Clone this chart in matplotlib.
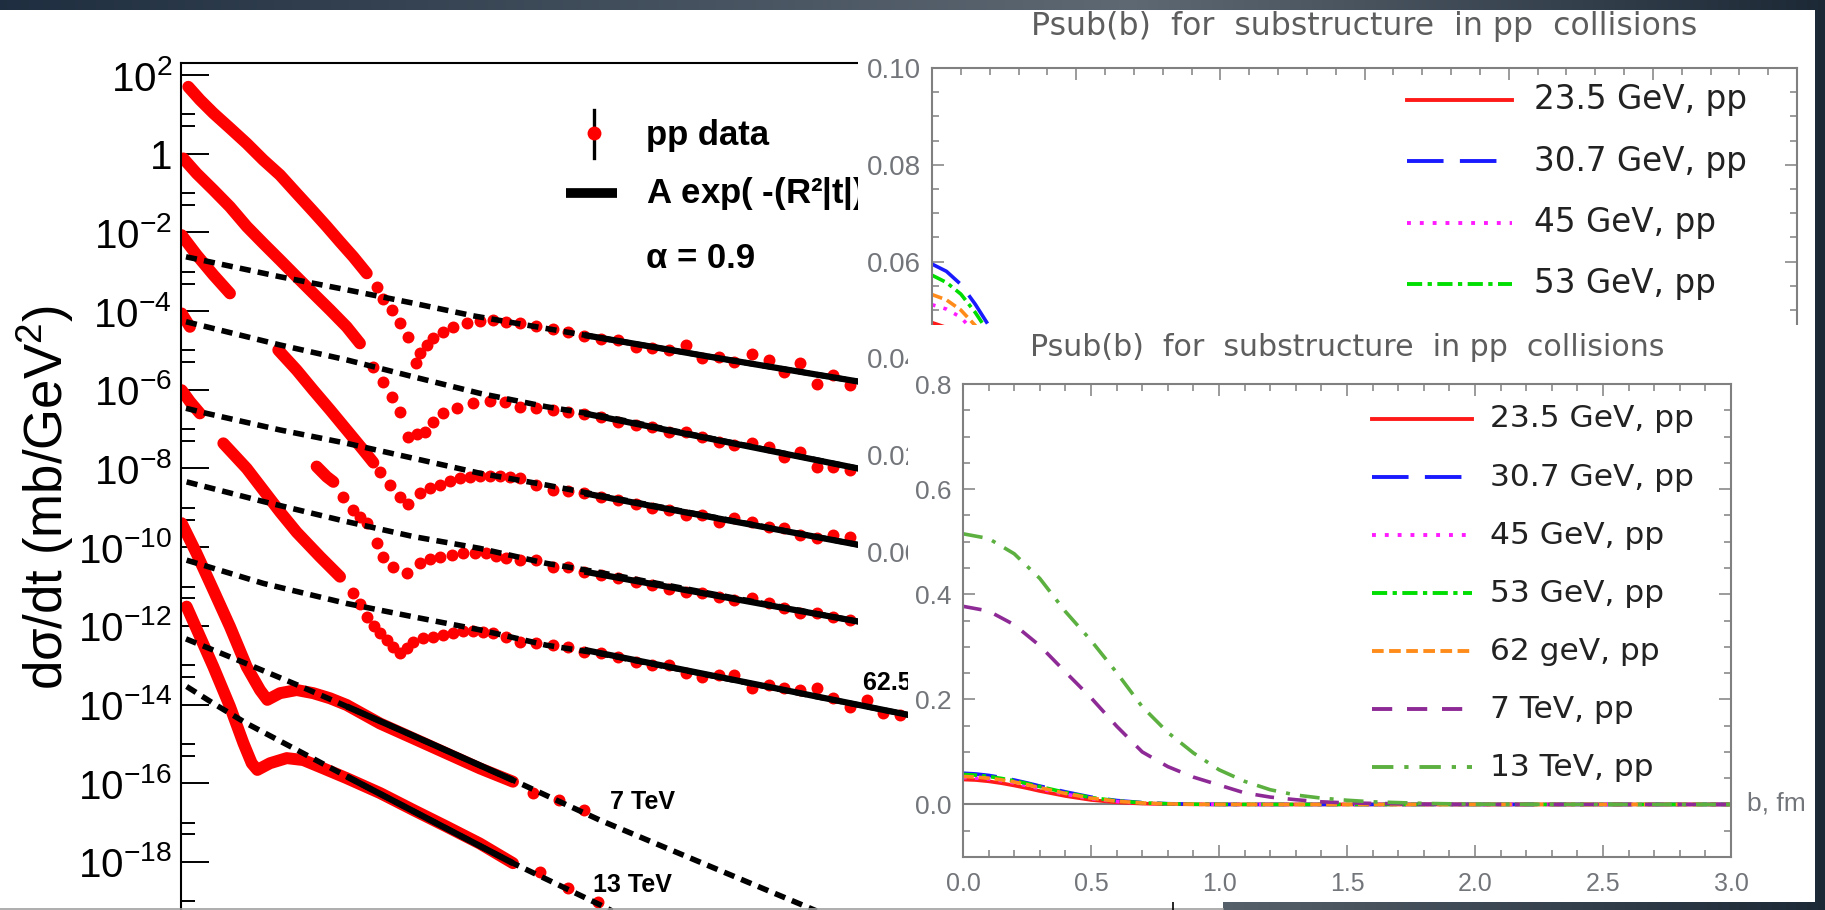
import numpy as np
import matplotlib
matplotlib.use("Agg")
import matplotlib.pyplot as plt
from matplotlib.lines import Line2D
from matplotlib.patches import Rectangle
from matplotlib.transforms import Bbox, TransformedBbox
from matplotlib.ticker import FixedLocator, FixedFormatter, NullFormatter, MultipleLocator, FormatStrFormatter

nan = np.nan
W, H = 1825, 910

plt.rcParams["font.family"] = ["Liberation Sans", "DejaVu Sans"]
plt.rcParams["mathtext.fontset"] = "custom"
plt.rcParams["mathtext.rm"] = "Liberation Sans"
plt.rcParams["mathtext.it"] = "Liberation Sans:italic"
plt.rcParams["mathtext.bf"] = "Liberation Sans:bold"

# ---------------- left: pp elastic dsigma/dt, log10 values vs |t| (GeV^2)
isr_energy = ["23.5 GeV", "30.7 GeV", "44.7 GeV", "52.8 GeV", "62.5 GeV"]

# low-|t| stretches where the points overlap into a band (nan = gap)
band_t = [
    [0.044, 0.114, 0.195, 0.295, 0.396, 0.496, 0.596, 0.697, 0.797, 0.878, 0.958, 1.038, 1.119],
    [0.014, 0.094, 0.195, 0.295, 0.396, 0.496, 0.596, 0.697, 0.797, 0.898, 0.998, 1.078],
    [0.004, 0.094, 0.195, 0.295, nan, 0.586, 0.697, 0.797, 0.898, 0.998, 1.098, 1.159],
    [0.004, 0.054, nan, 0.817, 0.878, 0.918],
    [0.004, 0.054, 0.114, nan, 0.255, 0.396, 0.496, 0.596, 0.697, 0.837, 0.958],
]
band_lg = [
    [1.70, 1.37, 1.03, 0.65, 0.26, -0.16, -0.54, -1.01, -1.47, -1.85, -2.24, -2.62, -3.04],
    [-0.12, -0.50, -0.92, -1.35, -1.85, -2.28, -2.70, -3.13, -3.55, -3.97, -4.40, -4.82],
    [-2.07, -2.57, -3.08, -3.55, nan, -4.99, -5.50, -6.01, -6.51, -7.02, -7.53, -7.85],
    [-4.06, -4.40, nan, -7.95, -8.21, -8.34],
    [-6.01, -6.30, -6.60, nan, -7.36, -8.00, -8.55, -9.10, -9.62, -10.24, -10.75],
]

# separate points: dip region and large-|t| tail
dots_t = [
    [1.179, 1.219, 1.269, 1.319, 1.369, 1.416, 1.44, 1.48, 1.52, 1.58, 1.64, 1.72, 1.80, 1.88, 1.96, 2.04,
     2.14, 2.24, 2.33, 2.43, 2.53, 2.63, 2.74, 2.84, 2.94, 3.04, 3.14, 3.24, 3.33, 3.44, 3.54, 3.63, 3.73, 3.83, 3.93, 4.03],
    [1.159, 1.219, 1.269, 1.319, 1.369, 1.42, 1.47, 1.52, 1.58, 1.66, 1.76, 1.86, 1.95, 2.04,
     2.14, 2.24, 2.33, 2.43, 2.53, 2.63, 2.74, 2.84, 2.94, 3.04, 3.14, 3.24, 3.33, 3.44, 3.54, 3.63, 3.73, 3.83, 3.93, 4.03],
    [1.199, 1.259, 1.319, 1.369, 1.44, 1.50, 1.56, 1.62, 1.68, 1.74, 1.80, 1.86, 1.92, 1.98, 2.04,
     2.14, 2.24, 2.33, 2.43, 2.53, 2.63, 2.74, 2.84, 2.94, 3.04, 3.14, 3.24, 3.33, 3.44, 3.54, 3.63, 3.73, 3.83, 3.93, 4.03],
    [0.978, 1.038, 1.08, 1.119, 1.179, 1.219, 1.279, 1.36, 1.44, 1.50, 1.56, 1.63, 1.70, 1.77, 1.84, 1.90, 1.96, 2.04,
     2.14, 2.24, 2.33, 2.43, 2.53, 2.63, 2.74, 2.84, 2.94, 3.04, 3.14, 3.24, 3.33, 3.44, 3.54, 3.63, 3.73, 3.83, 3.93, 4.03],
    [1.038, 1.08, 1.119, 1.16, 1.199, 1.24, 1.279, 1.319, 1.36, 1.40, 1.46, 1.52, 1.58, 1.64, 1.70, 1.76, 1.82, 1.88, 1.96, 2.04,
     2.14, 2.24, 2.33, 2.43, 2.53, 2.63, 2.74, 2.84, 2.94, 3.04, 3.14, 3.24, 3.33, 3.44, 3.54, 3.63, 3.73, 3.83, 3.93, 4.03,
     4.13, 4.23, 4.33, 4.43, 4.53],
]
dots_lg = [
    [-3.38, -3.68, -3.97, -4.31, -4.65, -5.31, -5.07, -4.86, -4.69, -4.52, -4.40, -4.31, -4.25, -4.23, -4.27, -4.31,
     -4.37, -4.45, -4.52, -4.63, -4.72, -4.74, -4.90, -4.95, -4.99, -4.86, -5.20, -5.16, -5.29, -5.09, -5.24, -5.54, -5.33, -5.84, -5.62, -5.88],
    [-5.41, -5.79, -6.18, -6.56, -7.19, -7.13, -7.07, -6.81, -6.60, -6.47, -6.34, -6.28, -6.32, -6.43,
     -6.47, -6.51, -6.56, -6.62, -6.68, -6.81, -6.89, -6.94, -7.06, -7.06, -7.19, -7.32, -7.40, -7.36, -7.45, -7.70, -7.57, -7.95, -7.95, -8.04],
    [-8.08, -8.42, -8.72, -8.89, -8.63, -8.50, -8.42, -8.33, -8.25, -8.21, -8.19, -8.18, -8.19, -8.22, -8.25,
     -8.42, -8.55, -8.57, -8.63, -8.72, -8.80, -8.89, -9.01, -9.06, -9.18, -9.18, -9.35, -9.27, -9.35, -9.48, -9.52, -9.69, -9.77, -9.69, -9.73],
    [-8.72, -9.06, -9.22, -9.39, -9.90, -10.24, -10.50, -10.66, -10.41, -10.30, -10.24, -10.19, -10.16, -10.14, -10.16, -10.22, -10.28, -10.33,
     -10.33, -10.50, -10.50, -10.62, -10.71, -10.79, -10.88, -10.96, -11.05, -11.13, -11.17, -11.26, -11.34, -11.30, -11.43, -11.55, -11.68, -11.68, -11.77, -11.85],
    [-11.17, -11.45, -11.77, -12.00, -12.19, -12.37, -12.53, -12.70, -12.55, -12.40, -12.32, -12.27, -12.23, -12.19, -12.13, -12.12, -12.15, -12.19, -12.27, -12.40,
     -12.44, -12.49, -12.53, -12.66, -12.70, -12.78, -12.91, -12.99, -12.99, -13.20, -13.29, -13.25, -13.25, -13.59, -13.50, -13.59, -13.63, -13.59, -13.84, -14.05,
     -13.88, -14.22, -14.26, -14.35, -14.45],
]

# A exp(-(R^2|t|)^alpha) fits: dashed over the whole range, solid over the fitted tail
fit_t = [
    [0.03, 0.6, 1.0, 1.4, 1.76, 2.43, 3.2, 4.08, 4.6],
    [0.03, 0.155, 0.596, 0.998, 1.40, 1.80, 2.20, 2.52, 4.08, 4.6],
    [0.03, 0.155, 0.596, 0.998, 1.40, 1.80, 2.20, 2.52, 4.08, 4.6],
    [0.034, 0.496, 0.998, 1.40, 1.80, 2.20, 2.52, 4.08, 4.6],
    [0.034, 0.496, 0.998, 1.40, 1.80, 2.20, 2.52, 4.38, 4.8],
]
fit_lg = [
    [-2.62, -3.13, -3.46, -3.80, -4.12, -4.61, -5.17, -5.79, -6.15],
    [-4.27, -4.40, -4.86, -5.24, -5.67, -6.09, -6.43, -6.65, -8.00, -8.45],
    [-6.47, -6.60, -7.02, -7.36, -7.74, -8.12, -8.42, -8.68, -9.94, -10.35],
    [-8.34, -8.84, -9.35, -9.73, -10.03, -10.41, -10.64, -11.89, -12.30],
    [-10.33, -10.92, -11.43, -11.77, -12.10, -12.49, -12.70, -14.26, -14.60],
]
tail_t = [[2.43, 3.2, 4.08, 4.6], [2.43, 4.08, 4.6], [2.43, 4.08, 4.6], [2.43, 4.08, 4.6], [2.43, 4.38, 4.8]]
tail_lg = [[-4.61, -5.17, -5.79, -6.15], [-6.60, -8.00, -8.45], [-8.63, -9.94, -10.35],
           [-10.62, -11.89, -12.30], [-12.61, -14.26, -14.60]]

# LHC 7 and 13 TeV
tev7_band_t = [0.004, 0.094, 0.195, 0.295, 0.396, 0.476, 0.52, 0.596, 0.697, 0.797, 0.898, 0.998, 1.199, 1.4, 1.6, 1.8, 2.0]
tev7_band_lg = [-9.39, -10.16, -11.09, -12.02, -13.04, -13.63, -13.88, -13.71, -13.63, -13.71, -13.84, -14.01, -14.48, -14.86, -15.24, -15.62, -15.96]
tev7_dots_t = [2.12, 2.28, 2.43]
tev7_dots_lg = [-16.25, -16.42, -16.68]
tev7_fit_t = [0.03, 0.4, 0.7, 1.0, 1.5, 2.0, 2.52, 3.0, 3.77, 4.0]
tev7_fit_lg = [-12.33, -12.97, -13.50, -14.05, -14.98, -15.92, -16.93, -17.78, -19.14, -19.55]
tev7_tail_t = [1.0, 1.5, 2.0]
tev7_tail_lg = [-14.05, -14.98, -15.92]

tev13_band_t = [0.034, 0.114, 0.195, 0.295, 0.376, 0.426, 0.46, 0.536, 0.637, 0.737, 0.857, 0.998, 1.2, 1.4, 1.6, 1.8, 2.0]
tev13_band_lg = [-11.51, -12.27, -13.04, -14.05, -14.98, -15.49, -15.66, -15.49, -15.36, -15.41, -15.62, -15.87, -16.25, -16.68, -17.10, -17.53, -18.03]
tev13_dots_t = [2.16, 2.33, 2.51]
tev13_dots_lg = [-18.25, -18.65, -19.02]
tev13_fit_t = [0.034, 0.195, 0.396, 0.697, 1.0, 1.5, 2.0, 2.55, 2.8]
tev13_fit_lg = [-13.54, -13.97, -14.48, -15.15, -15.83, -16.93, -18.03, -19.14, -19.70]
tev13_tail_t = [1.0, 1.5, 2.0]
tev13_tail_lg = [-15.83, -16.93, -18.03]

ytick_exp = [2, 0, -2, -4, -6, -8, -10, -12, -14, -16, -18]

# ---------------- right: Psub(b) profiles
b_isr = [0, 0.05, 0.1, 0.15, 0.2, 0.25, 0.3, 0.4, 0.5, 0.6, 0.7, 0.8, 0.9, 1.0, 1.2, 1.5, 2.0, 3.0]
p_235 = [0.0474, 0.0464, 0.0440, 0.0404, 0.0360, 0.0310, 0.0255, 0.0160, 0.0085, 0.0040, 0.0016, 0.0006, 0.0002, 0, 0, 0, 0, 0]
p_307 = [0.0595, 0.0580, 0.0553, 0.0512, 0.0465, 0.0410, 0.0350, 0.0240, 0.0140, 0.0075, 0.0035, 0.0014, 0.0005, 0.0001, 0, 0, 0, 0]
p_45 = [0.0511, 0.0502, 0.0485, 0.0452, 0.0410, 0.0358, 0.0300, 0.0195, 0.0110, 0.0055, 0.0024, 0.0009, 0.0003, 0.0001, 0, 0, 0, 0]
p_53 = [0.0572, 0.0557, 0.0533, 0.0495, 0.0450, 0.0398, 0.0340, 0.0228, 0.0132, 0.0068, 0.0031, 0.0012, 0.0004, 0.0001, 0, 0, 0, 0]
p_62 = [0.0532, 0.0521, 0.0500, 0.0468, 0.0428, 0.0377, 0.0320, 0.0210, 0.0120, 0.0062, 0.0028, 0.0011, 0.0004, 0.0001, 0, 0, 0, 0]
b_lhc = [0, 0.1, 0.2, 0.3, 0.4, 0.5, 0.6, 0.7, 0.8, 0.9, 1.0, 1.1, 1.2, 1.3, 1.4, 1.5, 1.6, 1.8, 2.0, 2.5, 3.0]
p_7tev = [0.377, 0.368, 0.342, 0.302, 0.252, 0.203, 0.149, 0.100, 0.072, 0.052, 0.037, 0.022, 0.014, 0.009, 0.005, 0.003, 0.002, 0.0005, 0, 0, 0]
p_13tev = [0.515, 0.506, 0.477, 0.430, 0.367, 0.312, 0.251, 0.186, 0.137, 0.098, 0.066, 0.044, 0.028, 0.018, 0.012, 0.008, 0.005, 0.002, 0.0005, 0, 0]

psub_labels = ["23.5 GeV, pp", "30.7 GeV, pp", "45 GeV, pp", "53 GeV, pp", "62 geV, pp", "7 TeV, pp", "13 TeV, pp"]
psub_b = [b_isr, b_isr, b_isr, b_isr, b_isr, b_lhc, b_lhc]
psub_vals = [p_235, p_307, p_45, p_53, p_62, p_7tev, p_13tev]
psub_colors = ["#ff1a1a", "#1a1aff", "#ff1aff", "#00dd00", "#ff8c1a", "#8e2a96", "#5cb040"]
psub_dashes = [None, (9.4, 4.2), (1.0, 2.3), (3.9, 1.4, 1.1, 1.4), (3.0, 1.4), (5.2, 3.8), (5.5, 2.8, 1.1, 2.8)]

RED = "#ff0000"
FRAME = "#808080"
LABEL = "#72757a"
TITLE = "#5e5e5e"
title_text = "Psub(b)  for  substructure  in pp  collisions"


def fx(x):
    return x / W


def fy(y):
    return 1 - y / H


def box(x0, y0, x1, y1):
    return [x0 / W, 1 - y1 / H, (x1 - x0) / W, (y1 - y0) / H]


def white(x0, y0, x1, y1, z):
    fig.add_artist(Rectangle((x0 / W, 1 - y1 / H), (x1 - x0) / W, (y1 - y0) / H,
                             transform=fig.transFigure, facecolor="white", edgecolor="none", zorder=z))


def clip_left_of(artist, xpix):
    # text running under the next panel is cut at that panel's edge
    artist.set_clip_box(TransformedBbox(Bbox.from_extents(0, 0, fx(xpix), 1), fig.transFigure))
    artist.set_clip_on(True)


fig = plt.figure(figsize=(W / 100, H / 100), dpi=100)

# slide background
gx = np.linspace(0, 1, 512)
stops = [0.0, 0.62, 1.0]
cols = [(0.12, 0.18, 0.25), (0.37, 0.41, 0.45), (0.11, 0.16, 0.21)]
grad = np.stack([np.interp(gx, stops, [c[k] for c in cols]) for k in range(3)], axis=-1)
bg = fig.add_axes([0, 0, 1, 1], zorder=0)
bg.imshow(np.repeat(grad[None], 2, axis=0), aspect="auto", extent=[0, 1, 0, 1])
bg.axis("off")

white(0, 10, 1223, 910, 1)
white(858, 10, 1815, 650, 2)
white(908, 325, 1815, 902, 3)

# ---------------- left panel
ax1 = fig.add_axes(box(181, 62.7, 1222, 910), zorder=1.5)
ax1.patch.set_visible(False)
ax1.set_yscale("log")
ax1.set_xlim(0, 6.271)
ax1.set_ylim(10 ** -19.22, 10 ** 2.3126)

for i in range(5):
    ax1.plot(band_t[i], 10 ** np.array(band_lg[i]), color=RED, lw=8.6, solid_capstyle="round", zorder=2)
    ax1.plot(dots_t[i], 10 ** np.array(dots_lg[i]), "o", color=RED, ms=8.6, mew=0, zorder=2)
for bt, bl, dt, dl in [(tev7_band_t, tev7_band_lg, tev7_dots_t, tev7_dots_lg),
                       (tev13_band_t, tev13_band_lg, tev13_dots_t, tev13_dots_lg)]:
    ax1.plot(bt, 10 ** np.array(bl), color=RED, lw=8.6, solid_capstyle="round", zorder=2)
    ax1.plot(dt, 10 ** np.array(dl), "o", color=RED, ms=8.6, mew=0, zorder=2)

for ft, fl in list(zip(fit_t, fit_lg)) + [(tev7_fit_t, tev7_fit_lg), (tev13_fit_t, tev13_fit_lg)]:
    ax1.plot(ft, 10 ** np.array(fl), color="black", lw=4.0, dashes=(2.0, 1.3), zorder=3)
for tt, tl in list(zip(tail_t, tail_lg)) + [(tev7_tail_t, tev7_tail_lg), (tev13_tail_t, tev13_tail_lg)]:
    ax1.plot(tt, 10 ** np.array(tl), color="black", lw=4.5, solid_capstyle="butt", zorder=4)

ax1.text(2.584, 10 ** -16.475, "7 TeV", fontsize=18, fontweight="bold", va="center", ha="left")
ax1.text(2.482, 10 ** -18.585, "13 TeV", fontsize=18, fontweight="bold", va="center", ha="left")
t62 = ax1.text(4.108, 10 ** -13.45, isr_energy[4], fontsize=18, fontweight="bold", va="center", ha="left")
clip_left_of(t62, 908)

ax1.set_xticks([])
ax1.yaxis.set_major_locator(FixedLocator([10.0 ** k for k in ytick_exp]))
ax1.yaxis.set_major_formatter(FixedFormatter(
    ["1" if k == 0 else r"$\mathregular{10^{%d}}$" % k for k in ytick_exp]))
ax1.yaxis.set_minor_locator(FixedLocator([10.0 ** k for k in range(1, -20, -2)] +
                                         [5 * 10.0 ** (k - 1) for k in range(1, -20, -2)]))
ax1.yaxis.set_minor_formatter(NullFormatter())
ax1.tick_params(axis="y", which="major", direction="in", length=20, width=1.4, labelsize=29, pad=6.5)
ax1.tick_params(axis="y", which="minor", direction="in", length=10, width=1.4)
for s in ["right", "bottom"]:
    ax1.spines[s].set_visible(False)
for s in ["left", "top"]:
    ax1.spines[s].set_linewidth(1.5)

fig.text(fx(45), fy(498), "dσ/dt (mb/GeV$^{2}$)", rotation=90, fontsize=38, ha="center", va="center", zorder=1.6)

# legend of the left panel
fig.add_artist(Line2D([fx(594)] * 2, [fy(110), fy(158)], color="black", lw=2.4, zorder=1.6))
fig.add_artist(Line2D([fx(594)], [fy(133)], marker="o", ms=10, color=RED, mew=0, zorder=1.7))
fig.add_artist(Line2D([fx(566), fx(617)], [fy(193)] * 2, color="black", lw=7, solid_capstyle="butt", zorder=1.6))
fig.text(fx(646), fy(136), "pp data", fontsize=25, fontweight="bold", va="center", zorder=1.6)
tfit = fig.text(fx(646), fy(194), r"A exp( -(R²|t|)$^{\alpha}$ )", fontsize=25, fontweight="bold",
                va="center", zorder=1.6)
clip_left_of(tfit, 858)
fig.text(fx(646), fy(259), "α = 0.9", fontsize=25, fontweight="bold", va="center", zorder=1.6)

# bottom edge of the left picture
fig.add_artist(Line2D([0, fx(1223)], [fy(908.5)] * 2, color="#a0a0a0", lw=1.2, zorder=1.6))
fig.add_artist(Line2D([fx(1173)] * 2, [fy(902), fy(910)], color="black", lw=1.2, zorder=1.6))


def style_psub(ax, ymaj, yfmt, ylab_pad, ylab_size, ncurves):
    ax.patch.set_visible(False)
    ax.set_xlim(0, 3)
    ax.xaxis.set_major_locator(MultipleLocator(0.5))
    ax.xaxis.set_minor_locator(MultipleLocator(0.1))
    ax.xaxis.set_major_formatter(FormatStrFormatter("%.1f"))
    ax.yaxis.set_major_locator(FixedLocator(ymaj))
    ax.yaxis.set_major_formatter(FormatStrFormatter(yfmt))
    ax.tick_params(which="both", direction="in", top=True, right=True, color=FRAME,
                   labelcolor=LABEL, labelsize=18, width=1.1)
    ax.tick_params(which="major", length=8.5)
    ax.tick_params(which="minor", length=5)
    ax.tick_params(axis="y", pad=ylab_pad, labelsize=ylab_size)
    ax.tick_params(axis="x", pad=10.6)
    for s in ax.spines.values():
        s.set_color(FRAME)
        s.set_linewidth(1.5)
    for b, v, c, d in list(zip(psub_b, psub_vals, psub_colors, psub_dashes))[:ncurves]:
        if d is None:
            ax.plot(b, v, color=c, lw=2.6)
        else:
            ax.plot(b, v, color=c, lw=2.6, dashes=d)


def psub_legend(x0, x1, xt, y0, dy, size, z, n):
    for i, (lab, c, d) in enumerate(list(zip(psub_labels, psub_colors, psub_dashes))[:n]):
        yy = fy(y0 + i * dy)
        ln = Line2D([fx(x0), fx(x1)], [yy, yy], color=c, lw=2.8, zorder=z)
        if d is not None:
            ln.set_dashes(d)
        fig.add_artist(ln)
        fig.text(fx(xt), yy, lab, fontsize=size, family="DejaVu Sans", color="#222222", va="center", zorder=z)


# ---------------- upper right panel: ISR energies only
ax2 = fig.add_axes(box(932, 68, 1797, 600.5), zorder=2.5)
ax2.set_ylim(-0.01, 0.10)
style_psub(ax2, [0.0, 0.02, 0.04, 0.06, 0.08, 0.10], "%.2f", 8, 20, 5)
ax2.yaxis.set_minor_locator(MultipleLocator(0.005))
fig.text(fx(1364), fy(27), title_text, fontsize=22.7, family="DejaVu Sans", color=TITLE,
         ha="center", va="center", zorder=2.6)
psub_legend(1407, 1512, 1534, 100, 61.3, 23.5, 2.6, 4)

# ---------------- lower right panel
ax3 = fig.add_axes(box(963, 384, 1731, 857), zorder=3.5)
ax3.set_ylim(-0.1, 0.8)
ax3.axhline(0, color=FRAME, lw=1.5, zorder=1)
style_psub(ax3, [0.0, 0.2, 0.4, 0.6, 0.8], "%.1f", 8.1, 19, 7)
ax3.yaxis.set_minor_locator(MultipleLocator(0.05))
fig.text(fx(1347), fy(348), title_text, fontsize=21.6, family="DejaVu Sans", color=TITLE,
         ha="center", va="center", zorder=3.6)
psub_legend(1372, 1472, 1490, 419, 58, 22.5, 3.6, 7)
fig.text(fx(1747), fy(803), "b, fm", fontsize=19, color=LABEL, va="center", ha="left", zorder=3.6)

fig.savefig("out.png", dpi=100)
